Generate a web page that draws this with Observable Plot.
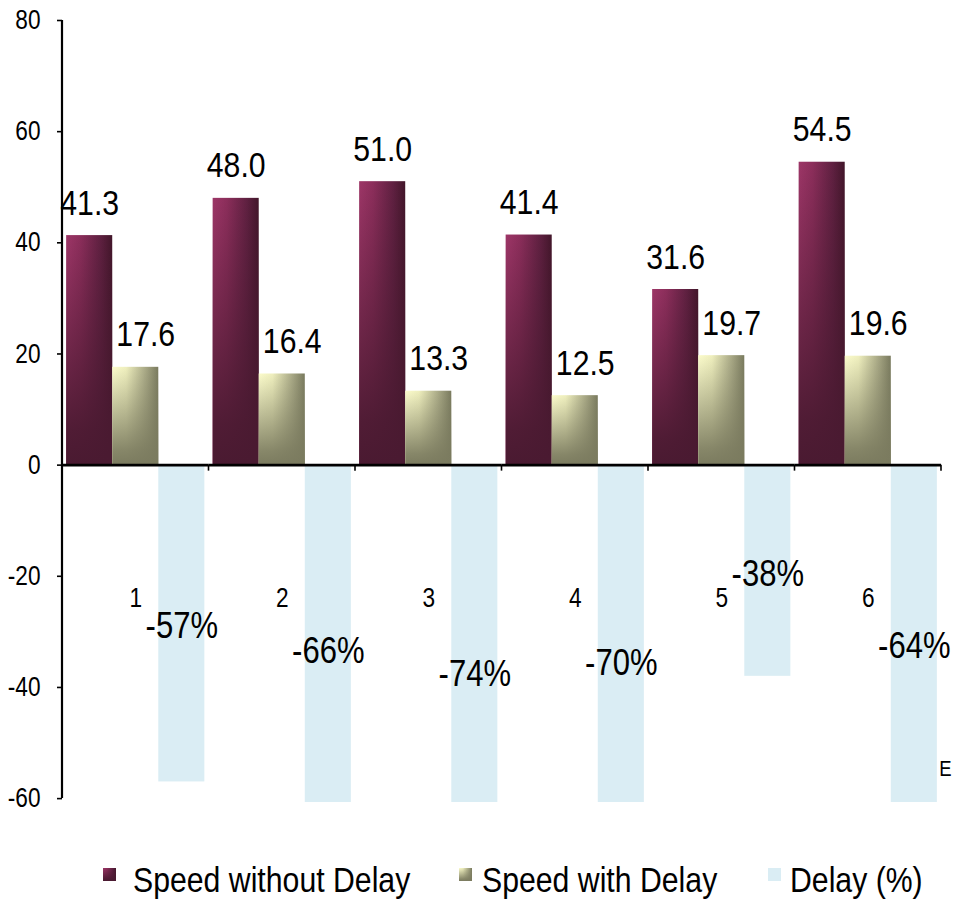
<!DOCTYPE html>
<html><head><meta charset="utf-8">
<script src="https://cdn.jsdelivr.net/npm/d3@7"></script>
<script src="https://cdn.jsdelivr.net/npm/@observablehq/plot@0.6"></script>
<style>
html,body{margin:0;padding:0;background:#fff;}
#chart svg{display:block;}
</style></head><body><div id="chart"></div>
<script>
// ---- data ----
const groups = [1, 2, 3, 4, 5, 6];
const seriesNames = ["Speed without Delay", "Speed with Delay", "Delay (%)"];
const speedWithoutDelay = [41.3, 48.0, 51.0, 41.4, 31.6, 54.5];
const speedWithDelay = [17.6, 16.4, 13.3, 12.5, 19.7, 19.6];
const delayPercent = [-57, -66, -74, -70, -38, -64];
const yTicks = [-60, -40, -20, 0, 20, 40, 60, 80];
const strayLabel = "E";

const withoutRows = groups.map((g, i) => ({group: g, series: seriesNames[0], value: speedWithoutDelay[i]}));
const withRows = groups.map((g, i) => ({group: g, series: seriesNames[1], value: speedWithDelay[i]}));
const delayRows = groups.map((g, i) => ({group: g, series: seriesNames[2], value: delayPercent[i]}));

const FONT = "'Liberation Sans', Arial, Helvetica, sans-serif";
const SQUEEZE = 0.84;

const plot = Plot.plot({
  width: 954,
  height: 840,
  marginLeft: 62,
  marginRight: 13,
  marginTop: 20,
  marginBottom: 38,
  style: {fontFamily: FONT, fontSize: "27px", color: "#000", background: "#fff", overflow: "visible"},
  fx: {domain: groups, padding: 0, round: false, axis: null, label: null},
  x: {domain: seriesNames, paddingInner: 0, paddingOuter: 0.09, round: false, axis: null, label: null},
  y: {domain: [-60.7, 80], clamp: true, label: null},
  marks: [
    Plot.barY(withoutRows, {fx: "group", x: "series", y: "value", fill: "url(#gMaroonH)"}),
    Plot.barY(withoutRows, {fx: "group", x: "series", y: "value", fill: "url(#gMaroonV)"}),
    Plot.barY(withRows, {fx: "group", x: "series", y: "value", fill: "url(#gYellowH)"}),
    Plot.barY(withRows, {fx: "group", x: "series", y: "value", fill: "url(#gYellowV)"}),
    Plot.barY(delayRows, {fx: "group", x: "series", y: "value", fill: "#daedf4"}),
    Plot.ruleY([0], {stroke: "#000", strokeWidth: 2.6}),
    Plot.axisY(yTicks, {tickSize: 5, tickPadding: 17, tickFormat: d => String(d), fontSize: 27, label: null, stroke: "#000", strokeWidth: 1.6, fill: "#000"}),
    Plot.text(withoutRows, {fx: "group", x: "series", y: "value", text: d => d.value.toFixed(1), lineAnchor: "bottom", dy: -21, fontSize: 36, fill: "#000"}),
    Plot.text(withRows, {fx: "group", x: "series", y: "value", text: d => d.value.toFixed(1), lineAnchor: "bottom", dy: -21, dx: 10, fontSize: 36, fill: "#000"}),
    Plot.text(delayRows, {fx: "group", x: "series", y: d => d.value / 2, text: d => d.value + "%", dy: 3, fontSize: 37, fill: "#000"}),
    Plot.text(groups, {fx: d => d, y: () => -24, text: d => String(d), fontSize: 27, fill: "#000"}),
    Plot.text([strayLabel], {fx: () => groups[groups.length - 1], frameAnchor: "right", y: () => -54.6, text: d => d, dx: 4, textAnchor: "middle", fontSize: 22, fill: "#000"})
  ]
});

document.getElementById("chart").appendChild(plot);
const svg = d3.select(plot);

// gradients
function addGradients(sel) {
  const defs = sel.insert("defs", ":first-child");
  const lin = (id, vertical, stops) => {
    const g = defs.append("linearGradient").attr("id", id)
      .attr("x1", 0).attr("y1", 0).attr("x2", vertical ? 0 : 1).attr("y2", vertical ? 1 : 0);
    stops.forEach(([o, c, a]) => g.append("stop").attr("offset", o).attr("stop-color", c).attr("stop-opacity", a ?? 1));
  };
  lin("gMaroonH", false, [[0, "#9d3667"], [0.3, "#8c2e5b"], [0.75, "#5e2040"], [1, "#42162a"]]);
  lin("gMaroonV", true, [[0, "#4a1a31", 0], [0.85, "#4a1a31", 0.92], [1, "#4a1a31", 1]]);
  lin("gYellowH", false, [[0, "#fcfccc"], [0.3, "#efefbe"], [0.75, "#a4a482"], [1, "#797a5e"]]);
  lin("gYellowV", true, [[0, "#7b7b5f", 0], [0.85, "#7b7b5f", 0.9], [1, "#7b7b5f", 1]]);
}
addGradients(svg);

const yS = plot.scale("y");
const fxS = plot.scale("fx");
const y0 = yS.apply(0);
const left = fxS.range[0];
// vertical axis line
svg.append("line").attr("x1", left).attr("x2", left)
  .attr("y1", yS.apply(yTicks[yTicks.length - 1])).attr("y2", yS.apply(yTicks[0]))
  .attr("stroke", "#000").attr("stroke-width", 2.2);
// category boundary ticks
groups.forEach(g => {
  const x = fxS.apply(g) + fxS.bandwidth;
  svg.append("line").attr("x1", x).attr("x2", x).attr("y1", y0).attr("y2", y0 + 6)
    .attr("stroke", "#000").attr("stroke-width", 1.6);
});

// legend
const legend = d3.select("#chart").append("svg").attr("width", 954).attr("height", 61)
  .style("display", "block").style("font-family", FONT);
const legendItems = [
  {name: seriesNames[0], fills: ["url(#gMaroonH)", "url(#gMaroonV)"], sx: 103, tx: 133},
  {name: seriesNames[1], fills: ["url(#gYellowH)", "url(#gYellowV)"], sx: 459, tx: 482},
  {name: seriesNames[2], fills: ["#daedf4"], sx: 768, tx: 790}
];
legendItems.forEach(it => {
  it.fills.forEach(f => legend.append("rect").attr("x", it.sx).attr("y", 28).attr("width", 13).attr("height", 13).attr("fill", f));
  legend.append("text").attr("x", it.tx).attr("y", 52).attr("font-size", 36).attr("fill", "#000").text(it.name);
});

// horizontally condensed lettering: scale each text about its own anchor
function squeeze(root) {
  root.querySelectorAll("text").forEach(t => {
    const bb = t.getBBox();
    if (!bb.width) return;
    const a = getComputedStyle(t).textAnchor;
    const ax = a === "middle" ? bb.x + bb.width / 2 : a === "end" ? bb.x + bb.width : bb.x;
    const ex = t.getAttribute("transform") || "";
    t.setAttribute("transform", `${ex} translate(${ax.toFixed(2)},0) scale(${SQUEEZE},1) translate(${(-ax).toFixed(2)},0)`.trim());
  });
}
squeeze(plot);
squeeze(legend.node());
</script>
</body></html>
